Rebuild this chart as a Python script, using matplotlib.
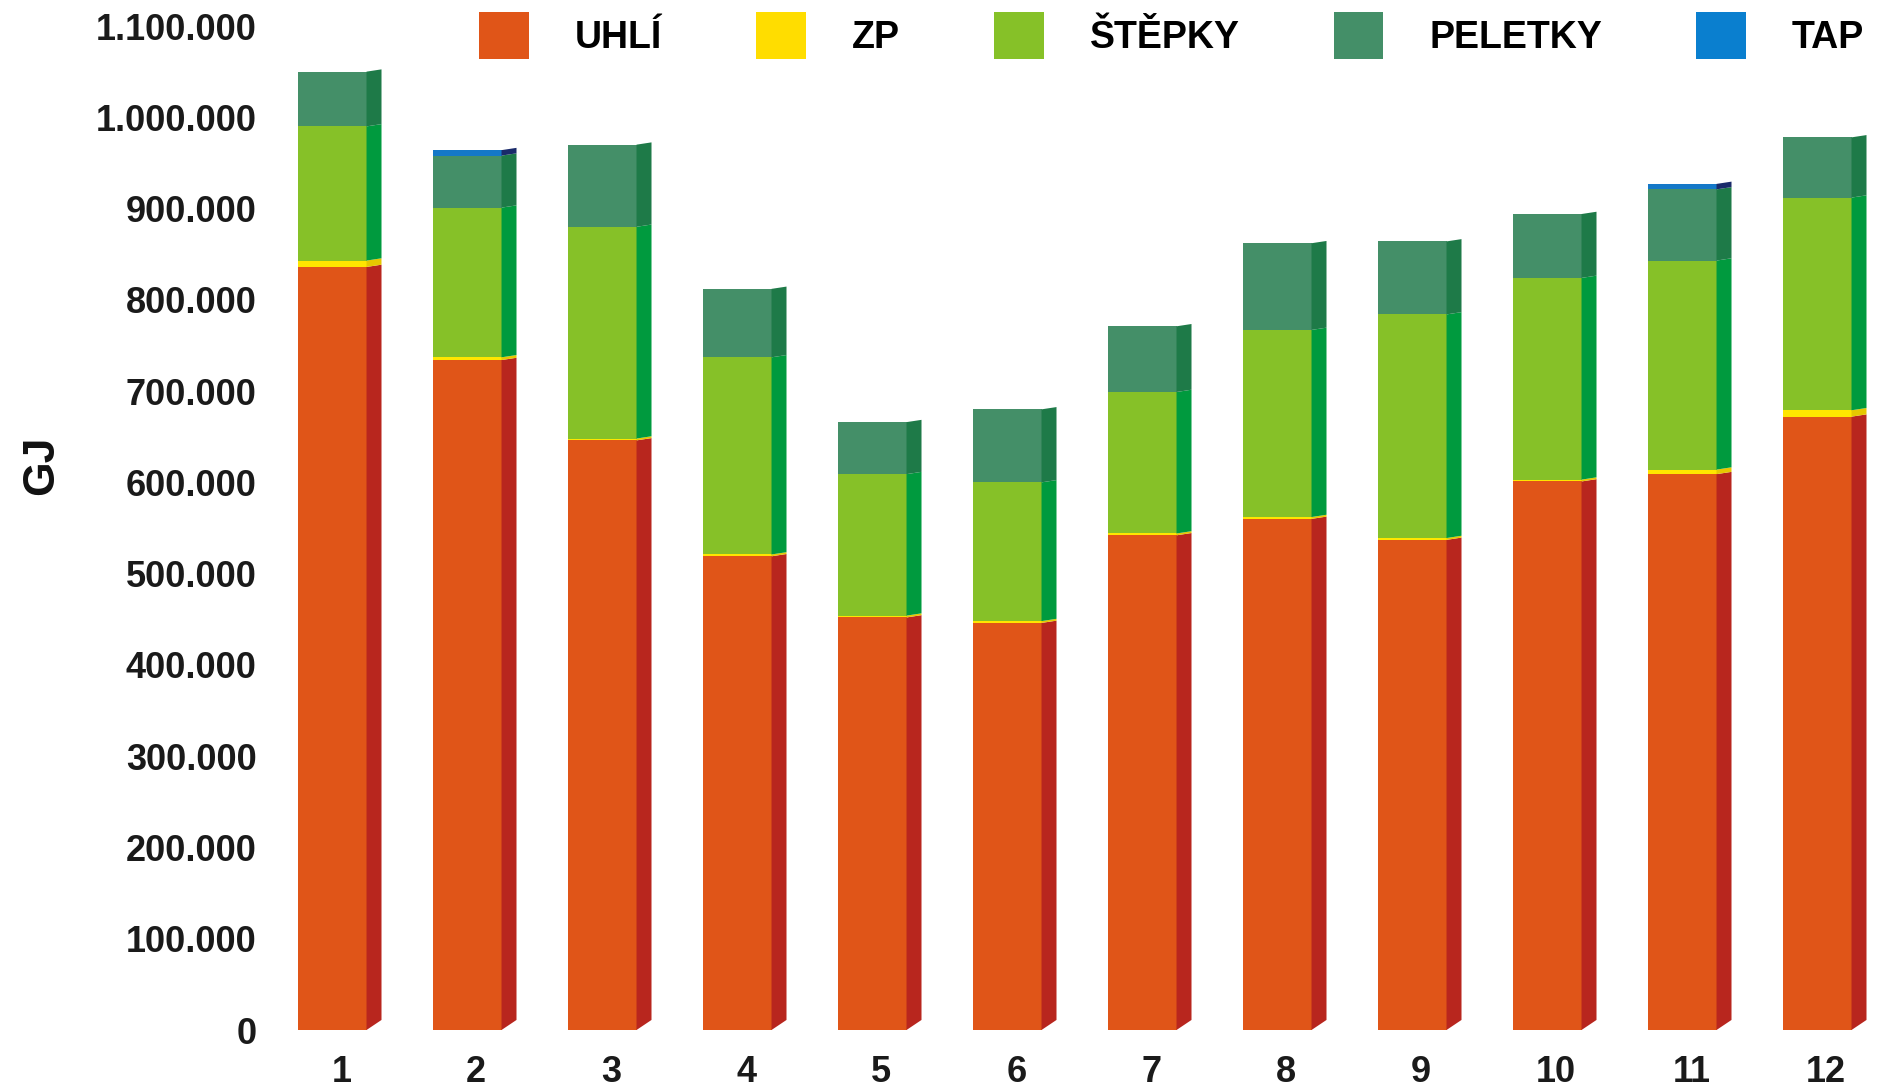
import matplotlib
matplotlib.use("Agg")
import matplotlib.pyplot as plt
from matplotlib.patches import Patch
from matplotlib.ticker import FuncFormatter, MultipleLocator
import numpy as np

plt.rcParams["font.family"] = ["Liberation Sans", "DejaVu Sans"]

# Annual heat production by fuel (GJ)
years = ["1", "2", "3", "4", "5", "6", "7", "8", "9", "10", "11", "12"]
series = ["UHLÍ", "ZP", "ŠTĚPKY", "PELETKY", "TAP"]
uhli = [836000, 734000, 646000, 519000, 452000, 446000, 542000, 560000, 537000, 601000, 609000, 672000]
zp = [7000, 3000, 2000, 2000, 2000, 2000, 2000, 2000, 2000, 2000, 5000, 7000]
stepky = [147000, 164000, 232000, 216000, 155000, 152000, 155000, 205000, 245000, 221000, 229000, 233000]
peletky = [60000, 57000, 90000, 75000, 57000, 80000, 72000, 95000, 80000, 70000, 78000, 66000]
tap = [0, 6000, 0, 0, 0, 0, 0, 0, 0, 0, 6000, 0]

front_colors = ["#E05518", "#FFE600", "#86C128", "#448F68", "#1478C8"]
side_colors = ["#B8261E", "#E6C800", "#009A3E", "#1E7A48", "#1A2A6A"]
legend_colors = ["#E05518", "#FFDD00", "#86C128", "#448F68", "#0A7FCF"]

W, H = 1886, 1087
fig = plt.figure(figsize=(W / 100, H / 100), dpi=100)
ax = fig.add_axes([290 / W, 57 / H, (W - 290) / W, 1004 / H])

x = np.arange(1, len(years) + 1)
front_w = 0.504
depth = 0.111
base_lift = 11000
edge_lift = 2500

values = [uhli, zp, stepky, peletky, tap]
bottom = np.zeros(len(years))
for vals, fc, sc in zip(values, front_colors, side_colors):
    vals = np.asarray(vals, dtype=float)
    ax.bar(x, vals, width=front_w, bottom=bottom, color=fc, linewidth=0, zorder=2)
    # darker right-hand face giving the columns their depth
    for xi, b, v in zip(x, bottom, vals):
        if v <= 0:
            continue
        xr = xi + front_w / 2
        lo = b + (base_lift if b == 0 else edge_lift)
        hi = b + v + edge_lift
        ax.fill([xr, xr + depth, xr + depth, xr], [b, lo, hi, b + v],
                color=sc, linewidth=0, zorder=2)
    bottom = bottom + vals

ax.set_xlim(1 - 42.5 / 135, 12 + (W - (332.5 + 11 * 135)) / 135)
ax.set_ylim(0, 1100000)
ax.yaxis.set_major_locator(MultipleLocator(100000))
ax.yaxis.set_major_formatter(FuncFormatter(lambda v, p: f"{int(round(v)):,}".replace(",", ".")))
ax.set_xticks(x + 0.065)
ax.set_xticklabels(years)

for s in ax.spines.values():
    s.set_visible(False)
ax.tick_params(axis="both", length=0, labelsize=26, colors="#1a1a1a")
ax.tick_params(axis="y", pad=24)
ax.tick_params(axis="x", pad=18)
for lbl in ax.get_xticklabels() + ax.get_yticklabels():
    lbl.set_fontweight("bold")

fig.text(42 / W, 1 - 465 / H, "GJ", rotation=90, ha="center", va="center",
         fontsize=32, fontweight="bold", color="#111111")

handles = [Patch(facecolor=c, edgecolor="none", label=s) for s, c in zip(series, legend_colors)]
ax.legend(handles=handles, ncol=5, loc="upper left",
          bbox_to_anchor=(479 / W, 1 - 12 / H), bbox_transform=fig.transFigure,
          frameon=False, borderpad=0, borderaxespad=0,
          handlelength=1.33, handleheight=1.54, handletextpad=1.23, columnspacing=2.5,
          prop={"size": 27, "weight": "bold"})

fig.savefig("out.png", dpi=100, facecolor="white")
